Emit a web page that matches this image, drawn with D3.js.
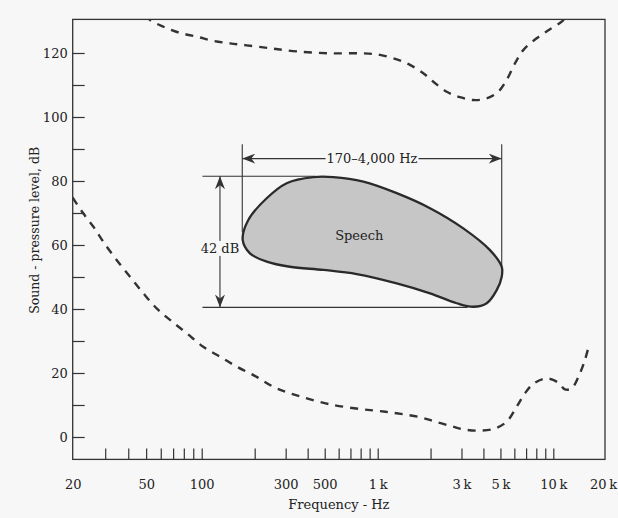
<!DOCTYPE html>
<html>
<head>
<meta charset="utf-8">
<script src="https://cdn.jsdelivr.net/npm/d3@7/dist/d3.min.js"></script>
<style>
  html, body { margin: 0; padding: 0; background: #f7f7f7; }
  svg { display: block; }
  text { font-family: "DejaVu Serif", "Liberation Serif", serif; fill: #222; }
</style>
</head>
<body>
<div id="chart"></div>
<script>
// ---------- data ----------
// Frequency axis (Hz) anchor values of the hand-drawn log axis
const xAnchorFreqs = [20, 100, 1000, 10000, 20000];
const xTickValues = [30, 40, 50, 60, 70, 80, 90, 100,
  200, 300, 400, 500, 600, 700, 800, 900, 1000,
  2000, 3000, 4000, 5000, 6000, 7000, 8000, 9000, 10000];
const xLabelValues = [20, 50, 100, 300, 500, 1000, 3000, 5000, 10000, 20000];
const xLabelTexts = ["20", "50", "100", "300", "500", "1\u2009k", "3\u2009k", "5\u2009k", "10\u2009k", "20\u2009k"];

const yDomain = [-7, 130.5];
const yTickValues = [0, 10, 20, 30, 40, 50, 60, 70, 80, 90, 100, 110, 120];
const yLabelValues = [0, 20, 40, 60, 80, 100, 120];

// Upper dashed curve (threshold of feeling): [Hz, dB]
const painFreq = [50, 52, 62, 76, 94, 116, 145, 180, 244, 347, 536, 828, 1030, 1283, 1527, 1818, 2074, 2471, 2942, 3500, 4174, 4862, 5429, 6053, 6748, 8043, 9572, 11194, 12000];
const painDb   = [132, 130.5, 128.2, 126.3, 125.1, 123.8, 123.0, 122.4, 121.5, 120.5, 119.9, 119.9, 119.4, 118.0, 116.3, 113.7, 111.0, 107.9, 106.2, 105.3, 105.8, 107.9, 111.6, 116.8, 120.9, 124.6, 127.4, 129.8, 131.5];

// Lower dashed curve (threshold of hearing): [Hz, dB]
const hearFreq = [20, 22.8, 25.9, 29.3, 34.6, 40.9, 48.3, 57, 67.3, 83, 102, 127, 158, 205, 255, 304, 378, 536, 793, 986, 1175, 1399, 1741, 2073, 2580, 3073, 3743, 4553, 5429, 6192, 6905, 7698, 9170, 10690, 11693, 12797, 14288, 15283, 15962];
const hearDb   = [74.8, 69.9, 65.7, 61.0, 55.3, 50.1, 44.9, 40.2, 36.6, 32.4, 28.2, 25.1, 22.0, 18.8, 15.7, 14.0, 12.4, 10.2, 8.75, 8.2, 7.7, 7.1, 6.2, 5.0, 3.5, 2.4, 2.0, 2.5, 4.8, 9.5, 13.7, 16.6, 18.3, 17.0, 14.9, 15.2, 19.9, 24.1, 27.7];

// Speech region outline: [Hz, dB]
const speechFreq = [171, 184, 234, 304, 431, 559, 829, 1283, 1986, 3072, 4360, 5085, 5085, 4760, 4178, 3500, 2817, 1986, 1283, 760, 491, 317, 234, 188];
const speechDb   = [61.6, 67.8, 74.6, 79.3, 81.2, 81.2, 79.8, 76.2, 71.5, 65.2, 58.4, 53.2, 50.1, 45.9, 41.8, 40.7, 41.8, 44.9, 48.0, 50.9, 52.2, 53.2, 54.8, 57.4];

// Annotations
const bandLowHz = 170, bandHighHz = 5085;        // vertical bracket lines
const bandTopDb = 91.5, bandLowEndDb = 64, bandHighEndDb = 52;
const bandArrowDb = 87;
const bandLabel = "170–4,000 Hz";
const rangeTopDb = 81.5, rangeBottomDb = 40.5;   // 42 dB range lines
const rangeLineStartHz = 101, rangeTopEndHz = 440, rangeBottomEndHz = 3250;
const rangeArrowHz = 127, rangeLabelDb = 59;
const rangeLabel = "42 dB";
const speechLabel = "Speech", speechLabelHz = 786, speechLabelDb = 63;
const xTitle = "Frequency - Hz";
const yTitle = "Sound - pressure level, dB";

// ---------- drawing ----------
const W = 618, H = 518;
const ink = "#333", bg = "#f7f7f7";
const svg = d3.select("#chart").append("svg").attr("width", W).attr("height", H);

const x = d3.scaleLog().domain(xAnchorFreqs).range([72.7, 201.7, 377.7, 553.3, 605]);
const y = d3.scaleLinear().domain(yDomain).range([459.4, 19.4]);

const x0 = x(20), x1 = x(20000), yTop = y(yDomain[1]), yBot = y(yDomain[0]);

const defs = svg.append("defs");
defs.append("clipPath").attr("id", "plotclip")
  .append("rect").attr("x", x0).attr("y", yTop).attr("width", x1 - x0).attr("height", yBot - yTop);
defs.append("marker").attr("id", "arrow")
  .attr("viewBox", "0 -5 13 10").attr("refX", 13).attr("refY", 0)
  .attr("markerWidth", 13).attr("markerHeight", 10)
  .attr("markerUnits", "userSpaceOnUse")
  .attr("orient", "auto-start-reverse")
  .append("path").attr("d", "M0,-5L13,0L0,5L4,0Z").attr("fill", ink);

// Axes
const fmtX = d => { const i = xLabelValues.indexOf(d); return i >= 0 ? xLabelTexts[i] : ""; };
const xAxis = d3.axisBottom(x)
  .tickValues(Array.from(new Set([...xTickValues, ...xLabelValues])).sort((a, b) => a - b))
  .tickSize(-11).tickPadding(20).tickFormat(fmtX);
const gx = svg.append("g").attr("transform", `translate(0,${yBot})`).call(xAxis);
gx.select(".domain").remove();
gx.selectAll(".tick line").attr("stroke", ink).attr("stroke-width", 1.2)
  .filter(d => d === 20 || d === 20000).remove();
gx.selectAll(".tick text").attr("font-size", 13).attr("fill", "#222")
  .style("font-family", '"DejaVu Serif", serif')
  .attr("dx", d => d === 20000 ? "-2" : "0");

const yAxis = d3.axisLeft(y).tickValues(yTickValues).tickSize(-12).tickPadding(5)
  .tickFormat(d => yLabelValues.includes(d) ? String(d) : "");
const gy = svg.append("g").attr("transform", `translate(${x0},0)`).call(yAxis);
gy.select(".domain").remove();
gy.selectAll(".tick line").attr("stroke", ink).attr("stroke-width", 1.2);
gy.selectAll(".tick text").attr("font-size", 13).attr("fill", "#222")
  .style("font-family", '"DejaVu Serif", serif');

// Frame
svg.append("rect").attr("x", x0).attr("y", yTop).attr("width", x1 - x0).attr("height", yBot - yTop)
  .attr("fill", "none").attr("stroke", ink).attr("stroke-width", 1.3);

// Titles
svg.append("text").attr("x", (x(20) + x(20000)) / 2).attr("y", 509)
  .attr("text-anchor", "middle").attr("font-size", 13).text(xTitle);
svg.append("text").attr("transform", `translate(39,${(yTop + yBot) / 2 - 9}) rotate(-90)`)
  .attr("text-anchor", "middle").attr("font-size", 12.5).text(yTitle);

// Dashed threshold curves
const line = d3.line().x(d => x(d[0])).y(d => y(d[1])).curve(d3.curveCatmullRom.alpha(0.5));
const plot = svg.append("g").attr("clip-path", "url(#plotclip)");
plot.append("path").datum(painFreq.map((f, i) => [f, painDb[i]]))
  .attr("d", line).attr("fill", "none").attr("stroke", ink)
  .attr("stroke-width", 2.4).attr("stroke-dasharray", "8,7");
plot.append("path").datum(hearFreq.map((f, i) => [f, hearDb[i]]))
  .attr("d", line).attr("fill", "none").attr("stroke", ink)
  .attr("stroke-width", 2.4).attr("stroke-dasharray", "8,7");

// Bracket / range lines
function seg(x1_, y1_, x2_, y2_) {
  return svg.append("line").attr("x1", x1_).attr("y1", y1_).attr("x2", x2_).attr("y2", y2_)
    .attr("stroke", ink).attr("stroke-width", 1.1);
}
seg(x(bandLowHz), y(bandTopDb), x(bandLowHz), y(bandLowEndDb));
seg(x(bandHighHz), y(bandTopDb), x(bandHighHz), y(bandHighEndDb));
seg(x(rangeLineStartHz), y(rangeTopDb), x(rangeTopEndHz), y(rangeTopDb));
seg(x(rangeLineStartHz), y(rangeBottomDb), x(rangeBottomEndHz), y(rangeBottomDb));

// Speech blob
const blob = d3.line().x(d => x(d[0])).y(d => y(d[1])).curve(d3.curveCatmullRomClosed.alpha(0.5));
svg.append("path").datum(speechFreq.map((f, i) => [f, speechDb[i]]))
  .attr("d", blob).attr("fill", "#c6c6c6").attr("stroke", "#2a2a2a").attr("stroke-width", 2.3);

// Arrows
seg(x(bandLowHz), y(bandArrowDb), x(bandHighHz), y(bandArrowDb))
  .attr("marker-start", "url(#arrow)").attr("marker-end", "url(#arrow)");
seg(x(rangeArrowHz), y(rangeTopDb), x(rangeArrowHz), y(rangeBottomDb))
  .attr("marker-start", "url(#arrow)").attr("marker-end", "url(#arrow)");

function labelWithBg(tx, ty, txt, padX) {
  const g = svg.append("g");
  const r = g.append("rect").attr("fill", bg);
  const t = g.append("text").attr("x", tx).attr("y", ty).attr("dy", "0.36em")
    .attr("text-anchor", "middle").attr("font-size", 13).text(txt);
  const b = t.node().getBBox();
  r.attr("x", b.x - padX).attr("y", b.y).attr("width", b.width + 2 * padX).attr("height", b.height);
}
labelWithBg((x(bandLowHz) + x(bandHighHz)) / 2, y(bandArrowDb), bandLabel, 1);
labelWithBg(x(rangeArrowHz), y(rangeLabelDb), rangeLabel, 1);

svg.append("text").attr("x", x(speechLabelHz)).attr("y", y(speechLabelDb)).attr("dy", "0.36em")
  .attr("text-anchor", "middle").attr("font-size", 13).text(speechLabel);
</script>
</body>
</html>
